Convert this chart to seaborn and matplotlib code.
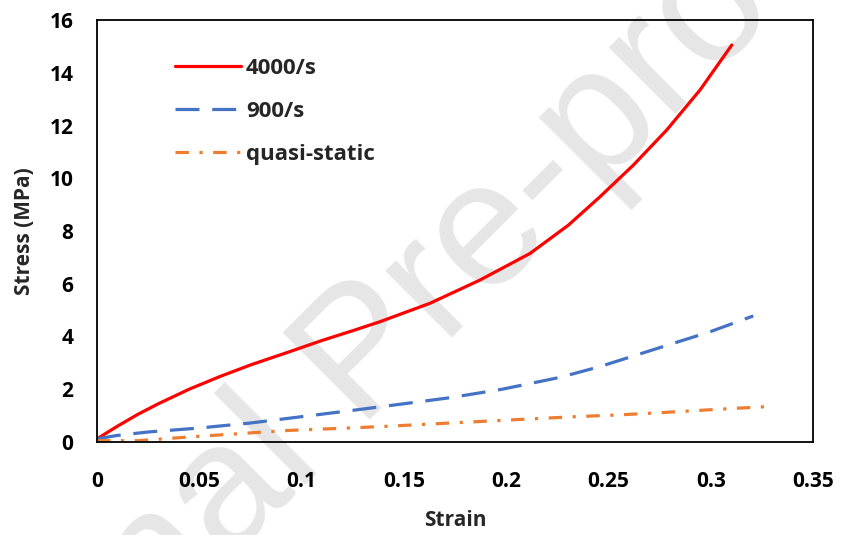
import numpy as np
import pandas as pd
import seaborn as sns
import matplotlib
matplotlib.use("Agg")
import matplotlib.pyplot as plt

# ---- data ----
strain_4000 = [0.0, 0.005, 0.01, 0.02, 0.03, 0.045, 0.06, 0.075, 0.094, 0.11, 0.125, 0.1383,
               0.1628, 0.1872, 0.2117, 0.2304, 0.2459, 0.2622, 0.2785, 0.2948, 0.3103]
stress_4000 = [0.12, 0.36, 0.6, 1.05, 1.45, 2.0, 2.48, 2.92, 3.42, 3.85, 4.22, 4.56,
               5.26, 6.14, 7.15, 8.22, 9.30, 10.50, 11.83, 13.35, 15.05]

strain_900 = [0.0, 0.01, 0.025, 0.05, 0.075, 0.099, 0.125, 0.15, 0.1726, 0.198, 0.2263,
              0.2459, 0.2638, 0.2817, 0.2997, 0.3208]
stress_900 = [0.12, 0.25, 0.38, 0.53, 0.72, 0.95, 1.2, 1.45, 1.68, 2.0, 2.45,
              2.86, 3.30, 3.74, 4.18, 4.78]

strain_qs = [0.0, 0.02, 0.045, 0.07, 0.094, 0.12, 0.143, 0.1726, 0.198, 0.231, 0.2556,
             0.275, 0.2947, 0.3127, 0.330]
stress_qs = [0.05, 0.05, 0.19, 0.32, 0.44, 0.52, 0.6, 0.72, 0.82, 0.95, 1.03,
             1.11, 1.20, 1.28, 1.35]

labels = ["4000/s", "900/s", "quasi-static"]
colors = ["#FF0000", "#4472C4", "#ED7D31"]

xticks = [0, 0.05, 0.1, 0.15, 0.2, 0.25, 0.3, 0.35]
xtick_labels = ["0", "0.05", "0.1", "0.15", "0.2", "0.25", "0.3", "0.35"]
yticks = [0, 2, 4, 6, 8, 10, 12, 14, 16]

df = pd.concat([
    pd.DataFrame({"Strain": strain_4000, "Stress": stress_4000, "series": labels[0]}),
    pd.DataFrame({"Strain": strain_900, "Stress": stress_900, "series": labels[1]}),
    pd.DataFrame({"Strain": strain_qs, "Stress": stress_qs, "series": labels[2]}),
])

sns.set_style("white")
plt.rcParams["font.family"] = ["Open Sans", "DejaVu Sans"]
plt.rcParams["font.weight"] = "bold"

fig = plt.figure(figsize=(8.42, 5.35), dpi=100)
ax = fig.add_axes([97 / 842, 1 - 442 / 535, (813 - 97) / 842, (442 - 20) / 535])
ax.set_facecolor("none")

# watermark (behind everything)
fig.text(0.435, 0.33, "Journal Pre-proof", fontsize=128, color="#e6e6e6",
         rotation=45, ha="center", va="center", rotation_mode="anchor",
         zorder=-5, weight="normal", family="Liberation Sans")

sns.lineplot(data=df, x="Strain", y="Stress", hue="series", style="series",
             hue_order=labels, style_order=labels, palette=colors,
             dashes={labels[0]: "", labels[1]: (7.5, 4), labels[2]: (4.2, 3.3, 1, 3.3)},
             linewidth=2.3, ax=ax, sort=False, estimator=None)

ax.set_xlim(0, 0.35)
ax.set_ylim(0, 16)
ax.set_xticks(xticks)
ax.set_xticklabels(xtick_labels)
ax.set_yticks(yticks)
ax.tick_params(direction="in", length=6, width=1.3, labelsize=15, colors="black")
ax.tick_params(axis="x", pad=21)
ax.tick_params(axis="y", pad=17)
for lab in ax.get_xticklabels() + ax.get_yticklabels():
    lab.set_fontweight("bold")
for sp in ax.spines.values():
    sp.set_visible(True)
    sp.set_color("black")
    sp.set_linewidth(1.3)

ax.set_xlabel("Strain", fontsize=15, fontweight="bold")
ax.set_ylabel("Stress (MPa)", fontsize=15, fontweight="bold")
ax.xaxis.set_label_coords(0.5, (442 - 520) / 422)
ax.yaxis.set_label_coords((25 - 97) / 716, 0.5)
ax.xaxis.label.set_va("center")
ax.yaxis.label.set_va("center")

leg = ax.legend(loc="upper left", bbox_to_anchor=(0.081, 0.958), frameon=False,
                handlelength=2.95, handletextpad=0.25, labelspacing=1.0,
                prop={"size": 16, "weight": "bold"})

fig.savefig("out.png", dpi=100)
